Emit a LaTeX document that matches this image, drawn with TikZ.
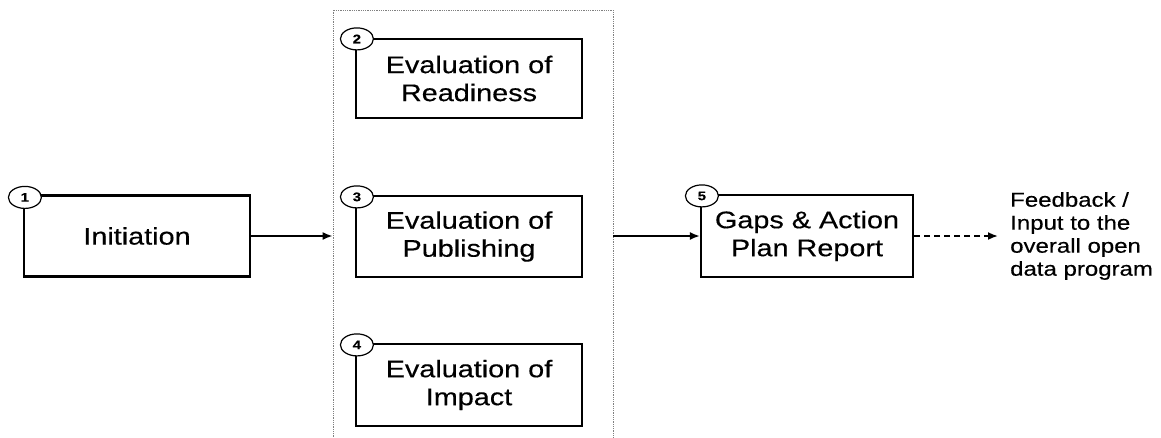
\documentclass[tikz,border=0pt]{standalone}
\usepackage{fontspec}
\setmainfont{Liberation Sans}[FakeStretch=1.2,FakeBold=0.4]
\usetikzlibrary{arrows.meta,positioning,shapes.geometric}

\tikzset{
  stage/.style={draw, line width=2.2pt, minimum width=226pt, minimum height=81pt,
    align=center, font=\fontsize{24}{28}\selectfont, inner sep=0pt},
  num/.style={draw, ellipse, fill=white, line width=1.2pt, minimum width=33pt,
    minimum height=22pt, inner sep=0pt, font=\fontsize{12.5}{12.5}\selectfont\bfseries},
  group/.style={draw, densely dotted, gray, line width=0.8pt, inner sep=0pt}
}

\begin{document}
\begin{tikzpicture}[x=1pt, y=-1pt, >={Latex[length=10pt,width=8pt]}]
    \useasboundingbox (0,0) rectangle (1161,437);
    \node[group, minimum width=280pt, minimum height=432pt] (evals) at (473,226) {};
    \node[stage] (ini) at (137,236) {Initiation};
    \node[stage, minimum height=79pt] (ready) at (469,78.5) {Evaluation of\\Readiness};
    \node[stage] (pub) at (469,236.5) {Evaluation of\\Publishing};
    \node[stage, minimum height=82pt] (impact) at (469,385) {Evaluation of\\Impact};
    \node[stage, minimum width=212pt, minimum height=82pt] (gaps) at (807,236) {Gaps \& Action\\Plan Report};
    \node[align=left, anchor=west, inner sep=0pt, font=\fontsize{20}{23}\selectfont] (fb) at (1010,236) {Feedback /\\Input to the\\overall open\\data program};
    % step numbers
    \node[num] (n1) at ([shift={(2,3)}]ini.north west) {1};
    \node[num] (n2) at ([shift={(2,1)}]ready.north west) {2};
    \node[num] (n3) at ([shift={(2,2)}]pub.north west) {3};
    \node[num] (n4) at ([shift={(2,2)}]impact.north west) {4};
    \node[num] (n5) at ([shift={(2,2)}]gaps.north west) {5};
    \path[->, line width=1.8pt]
    (ini.east) edge (ini.east -| evals.west)
    (gaps.west -| evals.east) edge (gaps.west)
    (gaps.east) edge[dashed, dash pattern=on 6pt off 4pt, shorten >=12pt] (gaps.east -| fb.west);
\end{tikzpicture}
\end{document}
